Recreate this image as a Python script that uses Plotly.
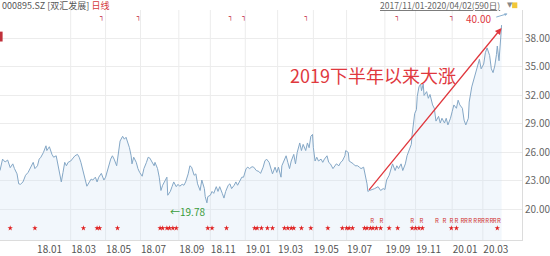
import plotly.graph_objects as go

# trading-day index (0 = 2017/11/01) and close prices
day = [0,3,6,9,12,15,17,20,22,24,27,30,33,36,39,41,44,46,48,51,54,55,58,61,63,66,68,70,72,74,
       76,78,80,83,85,88,91,93,95,98,100,102,105,107,109,112,114,116,119,122,124,127,130,132,134,137,139,141,144,146,148,152,
       154,155,157,160,162,164,167,169,172,174,176,179,181,182,185,187,189,191,193,196,197,200,202,204,207,209,211,214,216,218,
       221,223,225,228,230,232,235,237,240,241,243,244,247,249,251,254,256,258,261,263,265,268,270,272,275,277,279,282,284,286,
       289,291,293,296,298,
       301,304,306,309,311,313,316,318,320,323,325,327,330,331,334,336,338,340,342,345,347,349,352,354,356,359,361,363,365,367,
       368,370,372,374,377,379,381,384,386,388,391,393,395,398,400,402,405,406,409,410,413,415,417,420,422,424,427,429,431,432,434,
       440,444,447,450,452,454,457,459,461,464,466,468,471,473,476,478,480,483,484,486,487,489,490,492,494,495,497,498,501,503,
       505,508,510,512,515,517,519,522,524,526,529,531,533,536,538,540,543,545,547,550,551,554,556,558,561,563,565,568,570,572,
       575,577,579,581,583,584,586,587,588,589]
close = [24.1,25.3,25.0,25.2,24.4,24.8,24.3,23.75,22.7,22.65,22.9,23.6,23.9,24.45,24.96,24.3,24.6,25.3,25.5,26.0,
         26.7,26.2,26.6,25.8,25.5,25.65,24.8,23.75,22.9,23.9,24.96,24.6,24.96,25.1,25.3,25.65,25.8,25.5,24.96,23.9,
         22.9,22.45,22.9,23.2,23.1,23.4,22.9,23.4,23.8,23.1,23.4,24.45,25.3,25.65,25.3,24.6,26.0,27.2,27.7,27.4,27.6,26.5,
         25.65,24.8,25.5,24.96,24.3,23.9,23.5,24.3,24.96,25.5,25.4,24.96,24.6,24.96,24.3,23.4,22.0,22.55,22.9,23.4,
         21.5,21.9,22.4,22.9,22.4,22.65,22.45,22.65,22.55,22.9,23.75,24.6,24.45,23.6,23.75,22.7,22.0,23.1,22.2,21.35,
         20.7,21.35,21.5,21.9,21.7,22.4,21.9,22.4,21.7,21.2,21.9,22.55,22.7,22.2,22.55,22.9,22.55,23.1,23.4,23.4,
         24.3,24.45,24.3,24.5,24.45,
         24.1,24.0,23.8,24.45,25.1,25.3,24.96,24.3,23.75,24.45,23.9,24.45,23.4,24.6,25.3,25.65,24.96,24.3,25.1,25.8,
         24.8,26.0,27.0,26.2,26.85,26.2,27.0,26.5,27.7,27.9,26.5,25.1,25.5,25.1,25.3,24.96,25.3,25.65,24.96,24.8,
         24.3,24.5,24.8,24.6,24.96,25.1,25.65,26.2,26.0,25.1,24.96,24.8,24.6,24.6,24.45,24.3,24.45,23.6,22.7,21.9,22.0,
         22.2,22.4,22.0,22.2,22.1,23.1,23.6,24.3,24.8,24.1,24.6,24.3,24.8,24.1,24.8,25.65,26.2,26.85,27.9,29.3,
         30.1,30.5,31.9,32.9,33.2,32.5,33.2,32.0,32.4,31.7,32.1,31.0,30.65,29.3,29.8,29.1,29.6,29.1,29.6,28.9,
         29.6,30.3,31.0,30.65,31.5,31.0,30.65,29.4,28.9,29.6,31.3,32.9,33.6,34.1,35.1,35.8,34.8,35.3,36.5,37.0,
         36.2,34.8,34.4,35.1,36.3,37.2,35.65,36.5,38.05,39.4]

tick_idx = [43, 83, 124, 165, 210, 247, 288, 326, 368, 407, 452, 488, 531, 567]
tick_labels = ["18.01", "18.03", "18.05", "18.07", "18.09", "18.11", "19.01",
               "19.03", "19.05", "19.07", "19.09", "19.11", "20.01", "20.03"]
y_ticks = [20, 23, 26, 29, 32, 35, 38]

star_days = [12,41,98,114,117,138,188,191,196,199,203,207,244,249,266,299,302,307,314,320,
             334,338,342,345,354,365,385,402,407,410,414,428,431,435,438,442,447,457,467,
             484,488,492,496,530,536,584]
flag_days = [437,448,484,495,513,522,530,536,543,547,552,558,563,567,572,577,581,586]
top_mark_days = [120,163,271,287,360,467,531]

LOW_PRICE = 19.78
LOW_LABEL_DAY = 197
HIGH_PRICE = 40.00
HIGH_LABEL_DAY = 579
TITLE_TEXT = "2019下半年以来大涨"

X_RANGE = [0, 613]
Y_RANGE = [16.79, 40.99]

FONT = "Noto Sans CJK SC"
RED = "#e0383e"

fig = go.Figure()
fig.add_trace(go.Scatter(x=day, y=close, mode="lines",
                         line=dict(color="#84a7c6", width=1),
                         fill="tozeroy", fillcolor="rgba(205,222,242,0.25)",
                         hoverinfo="skip"))
fig.add_trace(go.Scatter(x=star_days, y=[Y_RANGE[0] + 1.25] * len(star_days), mode="markers",
                         marker=dict(symbol="star", size=4, color="#e02020"), hoverinfo="skip"))
fig.add_trace(go.Scatter(x=flag_days, y=[Y_RANGE[0] + 1.9] * len(flag_days), mode="text",
                         text=["R"] * len(flag_days), textfont=dict(size=6, color="#d03030", family=FONT),
                         hoverinfo="skip"))
fig.add_trace(go.Scatter(x=top_mark_days, y=[Y_RANGE[1] - 0.75] * len(top_mark_days), mode="text",
                         text=["┐"] * len(top_mark_days), textfont=dict(size=7, color="#c0203a", family="DejaVu Sans"),
                         hoverinfo="skip"))

# vertical gridlines (none at first tick)
for t in tick_idx[1:]:
    fig.add_shape(type="line", x0=t, x1=t, y0=0, y1=1, xref="x", yref="paper",
                  line=dict(color="#ececec", width=1), layer="below")

# rally arrow from the 2019 low to the latest close
start_i = min((i for i in range(len(day)) if day[i] > 400), key=lambda i: close[i])
fig.add_annotation(x=day[-1], y=close[-1] - 0.3, ax=day[start_i], ay=close[start_i],
                   xref="x", yref="y", axref="x", ayref="y", text="", showarrow=True,
                   arrowhead=2, arrowsize=1, arrowwidth=1.3, arrowcolor=RED)
fig.add_annotation(x=438, y=34.2, xref="x", yref="y", text=TITLE_TEXT, showarrow=False,
                   font=dict(family=FONT, size=18, color=RED))
fig.add_annotation(x=LOW_LABEL_DAY, y=LOW_PRICE, xref="x", yref="y", text="←%.2f" % LOW_PRICE,
                   showarrow=False, xanchor="left", font=dict(family=FONT, size=10, color="#3a9c3a"))
fig.add_annotation(x=HIGH_LABEL_DAY, y=HIGH_PRICE, yshift=1, xref="x", yref="y", text="%.2f" % HIGH_PRICE,
                   showarrow=False, xanchor="right", font=dict(family=FONT, size=10, color=RED))
fig.add_annotation(x=HIGH_LABEL_DAY + 17, y=HIGH_PRICE + 0.6, ax=HIGH_LABEL_DAY + 2, ay=HIGH_PRICE + 0.2,
                   xref="x", yref="y", axref="x", ayref="y", text="", showarrow=True,
                   arrowhead=2, arrowsize=0.6, arrowwidth=1, arrowcolor="#8ab0d0")

# header
fig.add_annotation(x=0, y=1.021, xref="paper", yref="paper", xanchor="left", yanchor="middle",
                   text="000895.SZ [双汇发展] <span style='color:#d43b3b'>日线</span>", showarrow=False,
                   font=dict(family=FONT, size=9, color="#555"))
fig.add_annotation(x=0.962, y=1.021, xref="paper", yref="paper", xanchor="right", yanchor="middle",
                   text="<u>2017/11/01-2020/04/02(590日)</u>", showarrow=False,
                   font=dict(family=FONT, size=8.5, color="#666"))
fig.add_annotation(x=0.977, y=1.021, xref="paper", yref="paper", xanchor="center", yanchor="middle",
                   text="▼", showarrow=False, font=dict(family="DejaVu Sans", size=7, color="#888"))
fig.add_shape(type="rect", x0=0.981, x1=0.991, y0=1.008, y1=1.033, xref="paper", yref="paper",
              fillcolor="#f2c83a", line=dict(width=0))
fig.add_shape(type="rect", x0=0, x1=0.005, y0=0.863, y1=0.906, xref="paper", yref="paper",
              fillcolor="#c0303a", line=dict(width=0))

fig.update_layout(
    width=550, height=256, margin=dict(l=0, r=27, t=10, b=12),
    plot_bgcolor="white", paper_bgcolor="white", showlegend=False,
    font=dict(family=FONT, size=10, color="#555"),
    xaxis=dict(range=X_RANGE, tickvals=tick_idx, ticktext=tick_labels, ticklabelposition="outside right",
               tickangle=0, showgrid=False, zeroline=False, showline=True, linecolor="#dcdcdc", ticks="",
               tickfont=dict(size=10, color="#555"), fixedrange=True),
    yaxis=dict(range=Y_RANGE, side="right", tickvals=y_ticks, ticktext=["%.2f" % v for v in y_ticks],
               showgrid=True, gridcolor="#ececec", zeroline=False, showline=True, linecolor="#dcdcdc",
               ticks="", tickfont=dict(size=10, color="#666"), fixedrange=True),
)

fig.write_html("out.html")
